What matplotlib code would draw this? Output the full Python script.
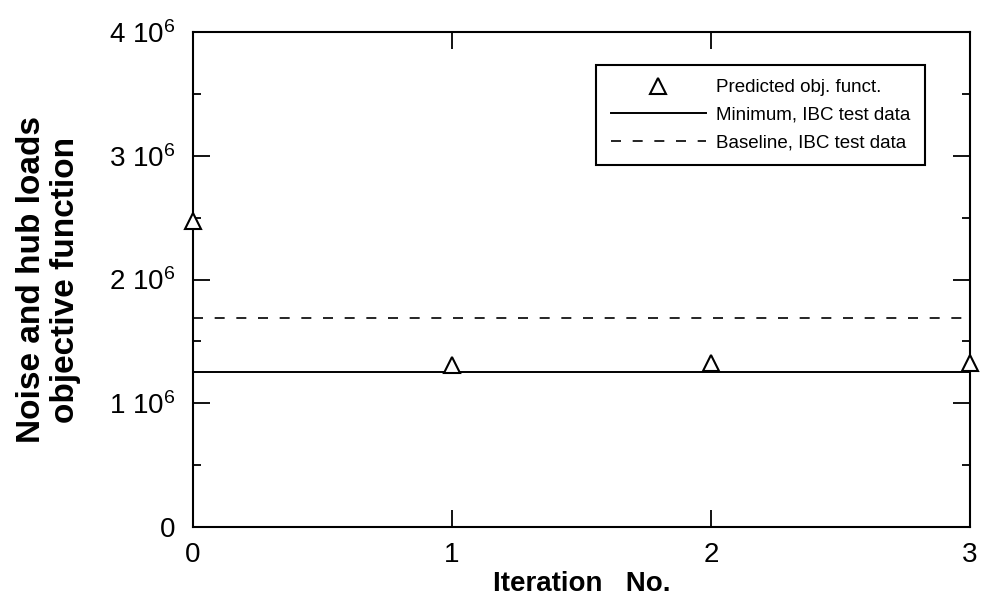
import matplotlib
matplotlib.use("Agg")
import matplotlib.pyplot as plt
from matplotlib.ticker import MultipleLocator

# Objective function per optimisation iteration
iterations = [0, 1, 2, 3]
predicted = [2.47e6, 1.31e6, 1.325e6, 1.325e6]

# Reference levels from the IBC wind tunnel test
minimum_ibc = 1.253e6
baseline_ibc = 1.69e6

ytick_values = [0, 1e6, 2e6, 3e6, 4e6]
ytick_labels = ["0", "1 10$^{6}$", "2 10$^{6}$", "3 10$^{6}$", "4 10$^{6}$"]

plt.rcParams["font.family"] = ["Liberation Sans", "DejaVu Sans"]
plt.rcParams["mathtext.fontset"] = "custom"
plt.rcParams["mathtext.rm"] = "Liberation Sans"
plt.rcParams["mathtext.default"] = "regular"

fig = plt.figure(figsize=(9.81, 6.1), dpi=100)
ax = fig.add_axes([193 / 981, 83 / 610, 777 / 981, 495 / 610])

tri, = ax.plot(iterations, predicted, linestyle="none", marker="^", markersize=11.5,
               markerfacecolor="white", markeredgecolor="black", markeredgewidth=1.5,
               clip_on=False, zorder=5, label="Predicted obj. funct.")
mins = ax.axhline(minimum_ibc, color="black", linewidth=1.4, label="Minimum, IBC test data")
base = ax.axhline(baseline_ibc, color="black", linewidth=1.2, linestyle=(0, (6, 7)),
                  label="Baseline, IBC test data")

ax.set_xlim(0, 3)
ax.set_ylim(0, 4e6)
ax.set_xticks(iterations)
ax.set_xticklabels([str(i) for i in iterations])
ax.set_yticks(ytick_values)
ax.set_yticklabels(ytick_labels)
ax.yaxis.set_minor_locator(MultipleLocator(0.5e6))

ax.tick_params(which="both", direction="in", top=True, right=True, width=1.3, labelsize=20)
ax.tick_params(which="major", length=12)
ax.tick_params(which="minor", length=6)
ax.tick_params(axis="y", pad=13)
ax.tick_params(axis="x", pad=11)

for sp in ax.spines.values():
    sp.set_linewidth(1.5)

ax.set_xlabel("Iteration   No.", fontsize=20, fontweight="bold", labelpad=2)
ax.set_ylabel("Noise and hub loads\nobjective function", fontsize=24, fontweight="bold",
              linespacing=1.1, labelpad=20)

leg = ax.legend(handles=[tri, mins, base], loc="upper right", bbox_to_anchor=(0.942, 0.933),
                fontsize=13.5, numpoints=1, handlelength=5.1, handletextpad=0.55,
                borderpad=0.75, borderaxespad=0, labelspacing=0.55,
                fancybox=False, framealpha=1, edgecolor="black")
leg.get_frame().set_linewidth(1.5)

fig.savefig("out.png", dpi=100)
